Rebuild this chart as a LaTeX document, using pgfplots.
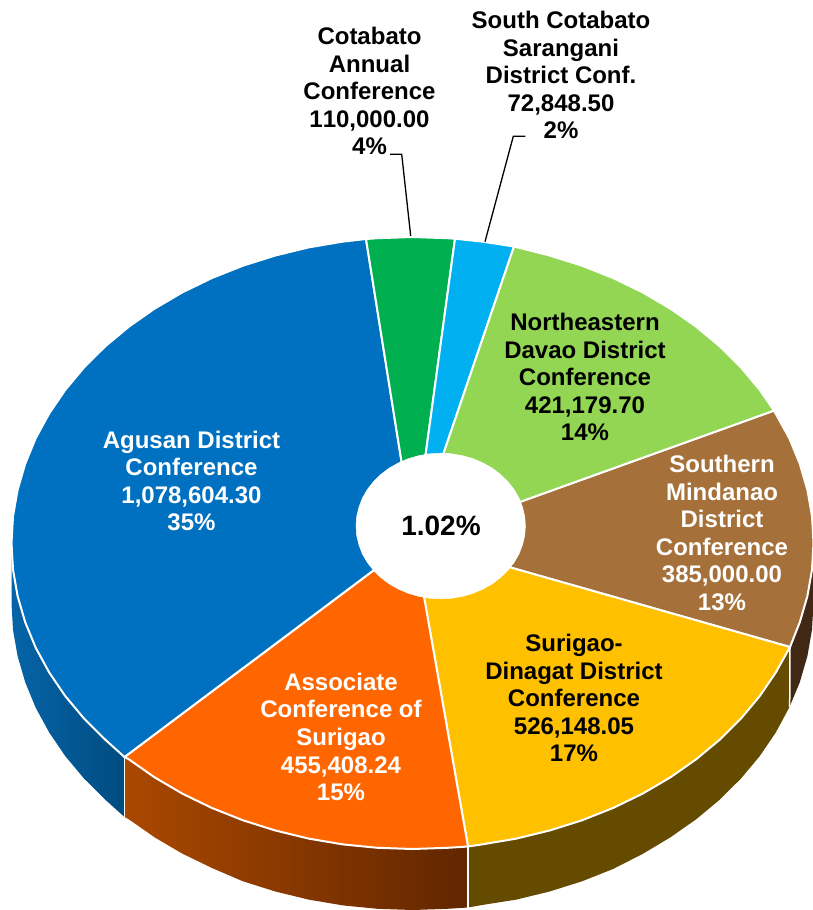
\documentclass[border=0pt]{standalone}
\usepackage{pgfplots}
\pgfplotsset{compat=1.18}
\usepackage{fontspec}
\setmainfont[Kerning=Off]{Liberation Sans}
\definecolor{cblue}{RGB}{0,112,192}
\definecolor{cgreen}{RGB}{0,176,80}
\definecolor{csky}{RGB}{0,176,240}
\definecolor{clime}{RGB}{146,214,83}
\definecolor{cbrown}{RGB}{165,112,58}
\definecolor{cyellow}{RGB}{255,192,0}
\definecolor{corange}{RGB}{255,102,0}
\definecolor{sblueL}{RGB}{5,100,168}
\definecolor{sblueR}{RGB}{0,76,128}
\definecolor{sorangeL}{RGB}{170,72,0}
\definecolor{sorangeR}{RGB}{98,38,0}
\definecolor{syellow}{RGB}{100,75,0}
\definecolor{sbrown}{RGB}{64,40,20}
\begin{document}
\begin{tikzpicture}
\begin{axis}[
  scale only axis, width=813pt, height=910pt,
  xmin=0, xmax=813, ymin=0, ymax=910, y dir=reverse,
  axis lines=none, no markers, clip=true,
]
% side faces
\addplot[draw=none, fill=sbrown] coordinates {(813.5,543)(812,569.7)(807.4,596.1)(799.8,622.2)(790,647)(789.5,707)(799.8,682.2)(807.4,656.1)(812,629.7)(813.5,603)} -- cycle;
\addplot[draw=none, fill=syellow] coordinates {(790,647)(775.9,672.3)(759.8,696)(741,718.5)(719.7,739.7)(696,759.4)(670.3,777.4)(642.5,793.7)(613,808)(582,820.3)(549.6,830.5)(516.3,838.6)(482.1,844.4)(468,846.5)(468,907.5)(482.1,905)(516.3,899.6)(549.6,891.5)(582,881.3)(613,869)(642.5,854)(670.3,837.4)(696,819.4)(719.7,799.7)(741,778.5)(759.8,756)(775.9,732.3)(789.5,707)} -- cycle;
\addplot[draw=none, left color=sorangeL, right color=sorangeR] coordinates {(468,846.5)(447.5,847.8)(412.5,849)(377.5,847.8)(342.9,844.4)(308.7,838.6)(275.4,830.5)(243,820.3)(212,808)(182.5,793.7)(154.7,777.4)(129,759.4)(124.5,757)(124.5,817)(129,819.4)(154.7,837.4)(182.5,853.7)(212,868)(243,881.3)(275.4,891.5)(308.7,899.6)(342.9,905.4)(377.5,908.8)(412.5,910)(447.5,908.8)(468,907.5)} -- cycle;
\addplot[draw=none, left color=sblueL, right color=sblueR] coordinates {(124.5,757)(105.3,739.7)(84,718.5)(65.2,696)(49.1,672.3)(35.7,647.7)(25.2,622.2)(17.6,596.1)(13,569.7)(11.5,543)(11.5,603)(13,629.7)(17.6,656.1)(25.2,682.2)(35.7,707.7)(49.1,732.3)(65.2,756)(84,778.5)(105.3,799.7)(124.5,817)} -- cycle;
% side separators
\addplot[white, line width=1.5pt] coordinates {(124.5,757)(124.5,817)};
\addplot[white, line width=1.5pt] coordinates {(468,846.5)(468,907.5)};
\addplot[white, line width=1.5pt] coordinates {(790,647)(789.7,707)};
% top slices
\addplot[draw=white, line width=2pt, fill=cbrown] coordinates {(414,540)(774,410.6)(789.3,438.3)(799.8,463.8)(807.4,489.9)(812,516.3)(813.5,543)(812,569.7)(807.4,596.1)(799.8,622.2)(790,647)} -- cycle;
\addplot[draw=white, line width=2pt, fill=cyellow] coordinates {(414,540)(790,647)(775.9,672.3)(759.8,696)(741,718.5)(719.7,739.7)(696,759.4)(670.3,777.4)(642.5,793.7)(613,808)(582,820.3)(549.6,830.5)(516.3,838.6)(482.1,844.4)(468,846.5)} -- cycle;
\addplot[draw=white, line width=2pt, fill=corange] coordinates {(414,540)(468,846.5)(447.5,847.8)(412.5,849)(377.5,847.8)(342.9,844.4)(308.7,838.6)(275.4,830.5)(243,820.3)(212,808)(182.5,793.7)(154.7,777.4)(129,759.4)(124.5,757)} -- cycle;
\addplot[draw=white, line width=2pt, fill=cblue] coordinates {(414,540)(124.5,757)(105.3,739.7)(84,718.5)(65.2,696)(49.1,672.3)(35.7,647.7)(25.2,622.2)(17.6,596.1)(13,569.7)(11.5,543)(13,516.3)(17.6,489.9)(25.2,463.8)(35.7,438.3)(49.1,413.7)(65.2,390)(84,367.5)(105.3,346.3)(129,326.6)(154.7,308.6)(182.5,292.3)(212,278)(243,265.7)(275.4,255.5)(308.7,247.4)(342.9,241.6)(366,239)} -- cycle;
\addplot[draw=white, line width=2pt, fill=cgreen] coordinates {(414,540)(366,239)(377.5,238.2)(412.5,237)(447.5,238.2)(455,238.7)} -- cycle;
\addplot[draw=white, line width=2pt, fill=csky] coordinates {(414,540)(455,238.7)(482.1,241.6)(514,246.5)} -- cycle;
\addplot[draw=white, line width=2pt, fill=clime] coordinates {(414,540)(514,246.5)(549.6,255.5)(582,265.7)(613,278)(642.5,292.3)(670.3,308.6)(696,326.6)(719.7,346.3)(741,367.5)(759.8,390)(774,410.6)} -- cycle;
% hole
\addplot[draw=white, line width=0.5pt, fill=white] coordinates {(525.4,526)(524.7,535.5)(522.5,544.8)(519,553.9)(514.1,562.4)(507.9,570.3)(500.6,577.5)(492.3,583.8)(483.1,589)(473.1,593.3)(462.6,596.3)(451.8,598.2)(440.7,598.8)(429.6,598.2)(418.8,596.3)(408.3,593.3)(398.3,589)(389.1,583.8)(380.8,577.5)(373.5,570.3)(367.3,562.4)(362.4,553.9)(358.9,544.8)(356.7,535.5)(356,526)(356.7,516.5)(358.9,507.2)(362.4,498.1)(367.3,489.6)(373.5,481.7)(380.8,474.5)(389.1,468.2)(398.3,463)(408.3,458.7)(418.8,455.7)(429.6,453.8)(440.7,453.2)(451.8,453.8)(462.6,455.7)(473.1,458.7)(483.1,463)(492.3,468.2)(500.6,474.5)(507.9,481.7)(514.1,489.6)(519,498.1)(522.5,507.2)(524.7,516.5)} -- cycle;
% leaders
\addplot[black, line width=1.3pt] coordinates {(390,154.3)(401.7,154.3)(410.7,236)};
\addplot[black, line width=1.3pt] coordinates {(525.3,136.3)(513.3,136.3)(485,241.7)};
% labels
\tikzset{lab/.style={align=center, inner sep=0pt, font=\fontsize{24}{27.6}\selectfont\bfseries}}
\node[lab, black] at (axis cs:369.5,91) {Cotabato\\Annual\\Conference\\110,000.00\\4\%};
\node[lab, black] at (axis cs:561,75) {South Cotabato\\Sarangani\\District Conf.\\72,848.50\\2\%};
\node[lab, black] at (axis cs:585,377) {Northeastern\\Davao District\\Conference\\421,179.70\\14\%};
\node[lab, white] at (axis cs:722,533) {Southern\\Mindanao\\District\\Conference\\385,000.00\\13\%};
\node[lab, black] at (axis cs:574,698) {Surigao-\\Dinagat District\\Conference\\526,148.05\\17\%};
\node[lab, white] at (axis cs:341,737) {Associate\\Conference of\\Surigao\\455,408.24\\15\%};
\node[lab, white] at (axis cs:191.5,481) {Agusan District\\Conference\\1,078,604.30\\35\%};
\node[inner sep=0pt, font=\fontsize{28}{30}\selectfont\bfseries] at (axis cs:441,526) {1.02\%};
\end{axis}
\pgfresetboundingbox
\path[use as bounding box] (current axis.south west) rectangle (current axis.north east);
\end{tikzpicture}
\end{document}
